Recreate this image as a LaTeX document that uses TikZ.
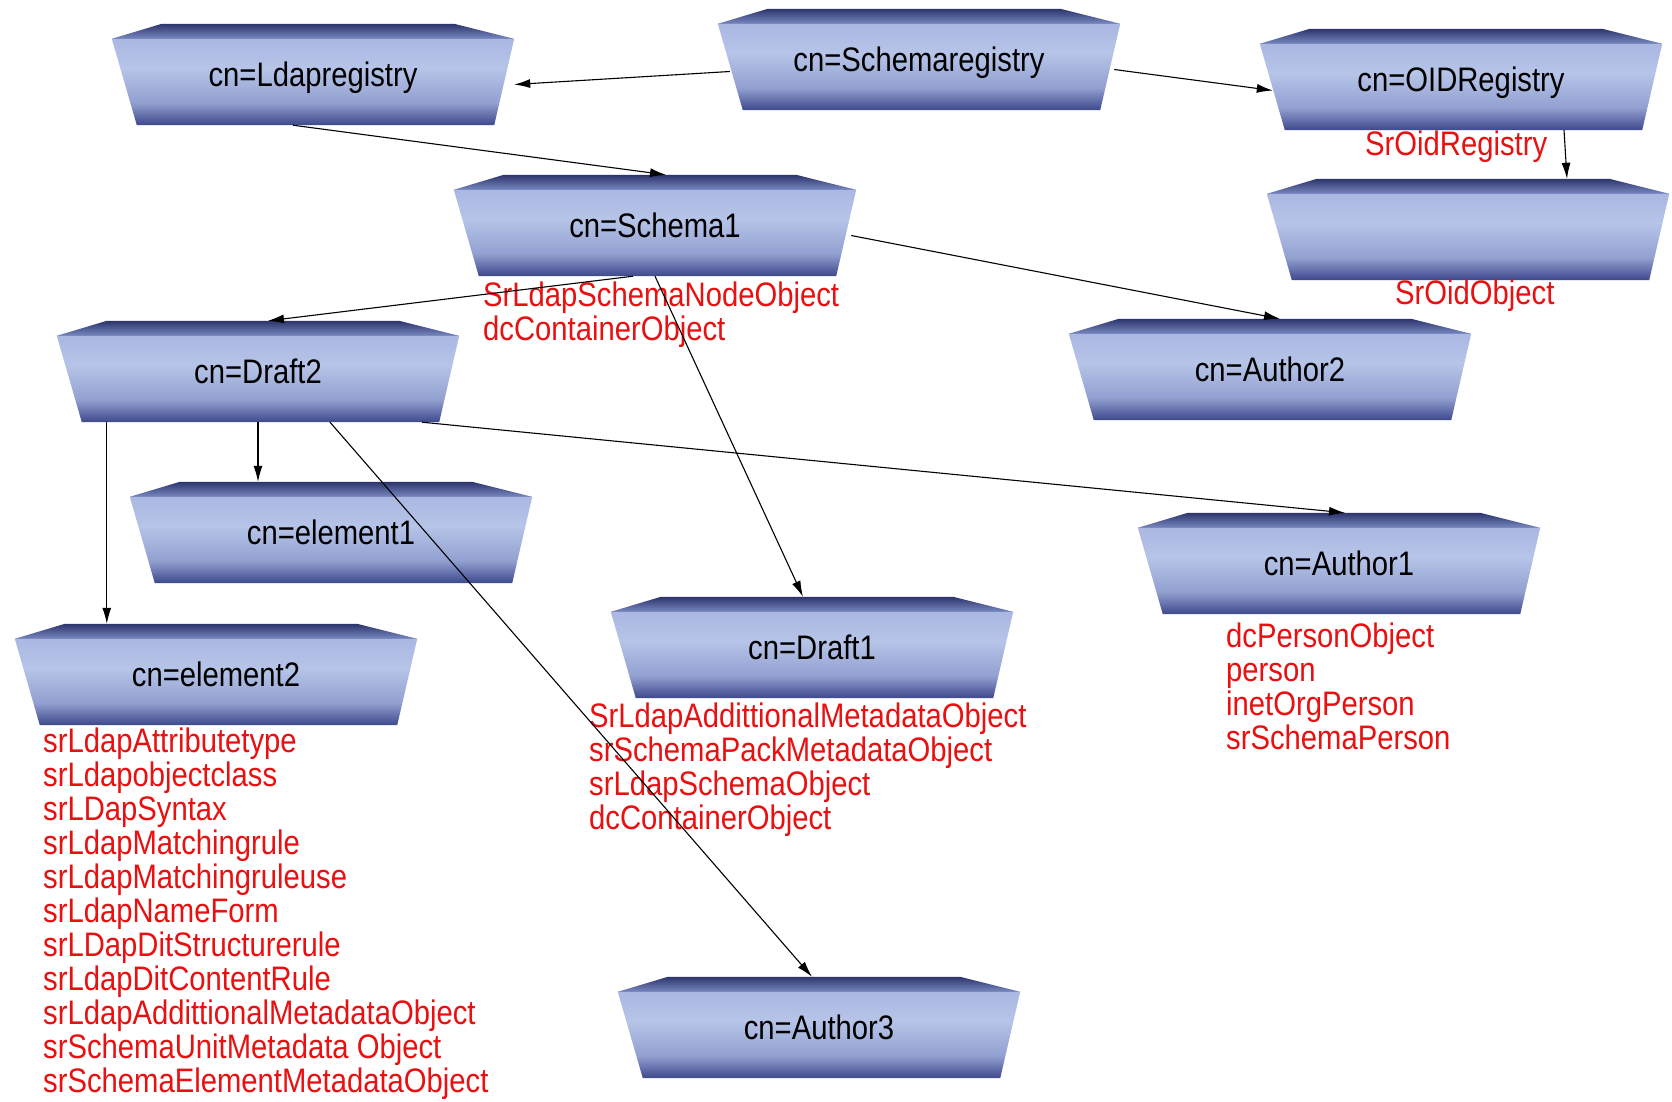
\documentclass[tikz,border=0pt]{standalone}
\usepackage{fontspec}
\setmainfont{Liberation Sans}[FakeStretch=0.86]
\usetikzlibrary{arrows.meta,backgrounds}

\definecolor{boxTop}{RGB}{45,52,108}
\definecolor{boxEdge}{RGB}{120,136,192}
\definecolor{boxShoulder}{RGB}{170,184,226}
\definecolor{boxLight}{RGB}{182,196,232}
\definecolor{boxMid}{RGB}{145,160,208}
\definecolor{boxDark}{RGB}{62,72,140}
\definecolor{attrRed}{RGB}{232,16,16}

\pgfdeclareverticalshading{ldaptop}{100bp}{color(0bp)=(boxEdge); color(25bp)=(boxEdge);
  color(75bp)=(boxTop); color(100bp)=(boxTop)}
\pgfdeclareverticalshading{ldapface}{100bp}{color(0bp)=(boxDark); color(25bp)=(boxDark);
  color(38bp)=(boxMid); color(58bp)=(boxLight); color(75bp)=(boxShoulder); color(100bp)=(boxShoulder)}

\begin{document}
\begin{tikzpicture}
[x=1pt,y=-1pt,%
  font=\fontsize{34}{34}\selectfont,%
  dnbox/.style={rectangle,minimum width=402pt,minimum height=101pt,inner sep=0pt,text depth=1pt},%
  attrlist/.style={anchor=north west,inner sep=0pt,align=left,text=attrRed},%
  link/.style={-{Latex[length=16pt,width=9pt]},line width=1.1pt}]
\useasboundingbox (0,0) rectangle (1672,1101);

% entries of the directory tree
\node[dnbox] (schreg)   at (919,59.5)   {cn=Schemaregistry};
\node[dnbox] (ldap)     at (313,74.5)   {cn=Ldapregistry};
\node[dnbox] (oid)      at (1461,79.5)  {cn=OIDRegistry};
\node[dnbox] (oidobj)   at (1468,229.5) {};
\node[dnbox] (schema1)  at (655,225.5)  {cn=Schema1};
\node[dnbox] (draft2)   at (258,371.5)  {cn=Draft2};
\node[dnbox] (author2)  at (1270,369.5) {cn=Author2};
\node[dnbox] (element1) at (331,532.5)  {cn=element1};
\node[dnbox] (author1)  at (1339,563.5) {cn=Author1};
\node[dnbox] (draft1)   at (812,647.5)  {cn=Draft1};
\node[dnbox] (element2) at (216,674.5)  {cn=element2};
\node[dnbox] (author3)  at (819,1027.5) {cn=Author3};

% object classes
\node[attrlist] (oidcls)     at (1365,131) {SrOidRegistry};
\node[attrlist] (oidobjcls)  at (1395,280) {SrOidObject};
\node[attrlist] (schema1cls) at (483,282) {SrLdapSchemaNodeObject\\dcContainerObject};
\node[attrlist] (draft1cls)  at (589,703)
  {SrLdapAddittionalMetadataObject\\srSchemaPackMetadataObject\\srLdapSchemaObject\\dcContainerObject};
\node[attrlist] (author1cls) at (1226,623)
  {dcPersonObject\\person\\inetOrgPerson\\srSchemaPerson};
\node[attrlist] (element2cls) at (43,728)
  {srLdapAttributetype\\srLdapobjectclass\\srLDapSyntax\\srLdapMatchingrule\\
   srLdapMatchingruleuse\\srLdapNameForm\\srLDapDitStructurerule\\srLdapDitContentRule\\
   srLdapAddittionalMetadataObject\\srSchemaUnitMetadata Object\\srSchemaElementMetadataObject};

\begin{pgfonlayer}{background}
\fill[white] (0,0) rectangle (1672,1101);
\foreach \n in {schreg,ldap,oid,oidobj,schema1,draft2,author2,element1,author1,draft1,element2,author3}{
  \shade[shading=ldaptop] ([xshift=50pt]\n.north west) -- ([xshift=-60pt]\n.north east)
    -- ([yshift=-15pt]\n.north east) -- ([yshift=-15pt]\n.north west) -- cycle;
  \shade[shading=ldapface] ([yshift=-15pt]\n.north west) -- ([yshift=-15pt]\n.north east)
    -- ([xshift=-20pt]\n.south east) -- ([xshift=25pt]\n.south west) -- cycle;
}
\end{pgfonlayer}

% links
\draw[link] ([xshift=12pt,yshift=-12pt]schreg.west) -- ([yshift=-10pt]ldap.east);
\draw[link] ([xshift=-6pt,yshift=-10pt]schreg.east) -- ([xshift=13pt,yshift=-11pt]oid.west);
\draw[link] ([xshift=-20pt]ldap.south) -- ([xshift=11pt]schema1.north);
\draw[link] ([xshift=103pt]oid.south) -- ([xshift=99pt]oidobj.north);
\draw[link] ([xshift=-5pt,yshift=-10pt]schema1.east) -- ([xshift=10pt]author2.north);
\draw[link] ([xshift=-22pt]schema1.south) -- ([xshift=10pt]draft2.north);
\draw[link] (schema1.south) -- ([xshift=-9pt]draft1.north);
\draw[link] (draft2.south) -- (draft2.south |- element1.north);
\draw[link] ([xshift=50pt]draft2.south west) -- ([xshift=50pt]draft2.south west |- element2.north);
\draw[link] ([xshift=164pt]draft2.south) -- ([xshift=6pt]author1.north);
\draw[link] ([xshift=72pt]draft2.south) -- ([xshift=-7pt]author3.north);
\end{tikzpicture}
\end{document}
